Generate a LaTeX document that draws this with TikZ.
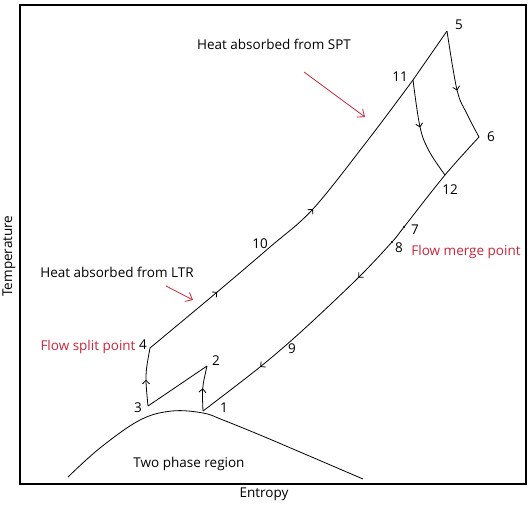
\documentclass[tikz,border=0pt]{standalone}
\usepackage{fontspec}
\setmainfont{Open Sans}
\usetikzlibrary{arrows.meta,decorations.markings}
\definecolor{redc}{RGB}{200,38,58}
\begin{document}
\begin{tikzpicture}[x=1bp,y=-1bp,
  lbl/.style={font=\fontsize{13.5bp}{16bp}\selectfont, inner sep=0pt},
  rlbl/.style={lbl, text=redc},
  curve/.style={line width=0.8bp, line join=round},
  frame/.style={line width=1.4bp},
  midarrow/.style={postaction={decorate,decoration={markings,mark=at position #1 with {\arrow{Straight Barb[length=3.5bp,width=7bp,line width=0.8bp]}}}}},
  redarrow/.style={draw=redc,line width=0.8bp,-{Straight Barb[length=6bp,width=10bp]}}
]
\useasboundingbox (0,0) rectangle (532,505);
% frame (axes)
\coordinate (tl) at (20,5);
\coordinate (br) at (526,484);
\draw[frame] (tl) rectangle (br);

% state points
\coordinate (p1) at (203,411);
\coordinate (p2) at (207,366);
\coordinate (p3) at (148,406);
\coordinate (p4) at (150,348);
\coordinate (p5) at (447,31);
\coordinate (p6) at (479,137);
\coordinate (p7) at (404,227);
\coordinate (p8) at (392,242);
\coordinate (p11) at (413,80);
\coordinate (p12) at (445,175);

% saturation dome
\draw[curve] plot[smooth, tension=0.6] coordinates {(68,477) (100,448) (140,420) (172,411) (203,413) (223,420) (260,435) (300,452) (363,479)};

% 1 -> 2
\draw[curve, midarrow=0.5] (p1) .. controls (202,388) .. (p2);
% 3 -> 2
\draw[curve] (p3) -- (p2);
% 3 -> 4
\draw[curve, midarrow=0.45] (p3) .. controls (145,375) .. (p4);
% 4 -> 10 -> 11 -> 5
\draw[curve, midarrow=0.2, midarrow=0.49] plot[smooth, tension=0.55] coordinates {(p4) (216,293) (270,247) (313,209) (368,140) (p11)} -- (p5);
% 5 -> 6
\draw[curve, midarrow=0.54] plot[smooth, tension=0.6] coordinates {(p5) (457,90) (467,114) (p6)};
% 11 -> 12
\draw[curve, midarrow=0.47] plot[smooth, tension=0.6] coordinates {(p11) (420,127) (429,151) (p12)};
% 6 -> 12 -> 7 -> 8 -> 9 -> 1
\draw[curve, midarrow=0.475, midarrow=0.815] plot[smooth, tension=0.55] coordinates {(p6) (p12) (p7) (p8) (358,278) (303,330) (260,367) (p1)};
\fill (p7) circle (1.1bp);
\fill (p8) circle (1.1bp);

% red arrows
\coordinate (sptA) at (304,72);
\coordinate (sptB) at (365,117);
\draw[redarrow] (sptA) -- (sptB);
\coordinate (ltrA) at (166,286);
\coordinate (ltrB) at (193,300);
\draw[redarrow] (ltrA) -- (ltrB);

% point labels
\node[lbl] (l1) at (224,408) {1};
\node[lbl] (l2) at (216,361) {2};
\node[lbl] (l3) at (138,408) {3};
\node[lbl] (l4) at (143,345) {4};
\node[lbl] (l5) at (459,25) {5};
\node[lbl] (l6) at (491,137) {6};
\node[lbl] (l7) at (415,230) {7};
\node[lbl] (l8) at (399,248) {8};
\node[lbl] (l9) at (292,349) {9};
\node[lbl] (l10) at (260,244) {10};
\node[lbl] (l11) at (400,77) {11};
\node[lbl] (l12) at (450,190) {12};

% texts
\node[lbl] (spt) at (274,44) {Heat absorbed from SPT};
\node[lbl] (ltr) at (117,272) {Heat absorbed from LTR};
\node[rlbl] (split) at (88,347) {Flow split point};
\node[rlbl] (merge) at (466,252) {Flow merge point};
\node[lbl] (two) at (189,464) {Two phase region};
\node[lbl] (xlab) at (264,494) {Entropy};
\node[lbl, rotate=90] (ylab) at (9,256) {Temperature};
\end{tikzpicture}
\end{document}
